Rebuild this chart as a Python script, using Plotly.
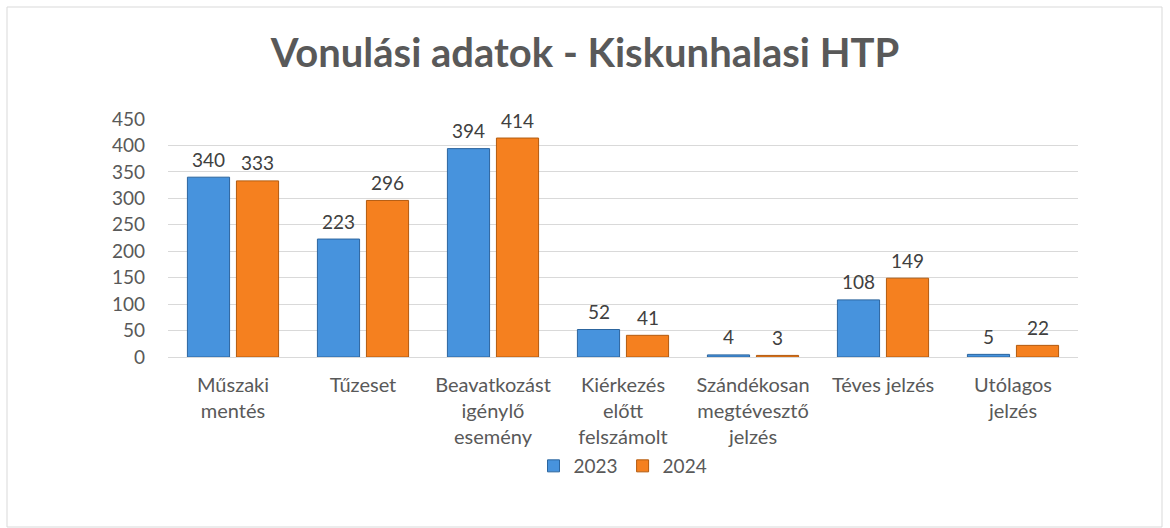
import plotly.graph_objects as go

categories = ["Műszaki<br>mentés", "Tűzeset", "Beavatkozást<br>igénylő<br>esemény",
              "Kiérkezés<br>előtt<br>felszámolt", "Szándékosan<br>megtévesztő<br>jelzés",
              "Téves jelzés", "Utólagos<br>jelzés"]
values_2023 = [340, 223, 394, 52, 4, 108, 5]
values_2024 = [333, 296, 414, 41, 3, 149, 22]
y_ticks = [0, 50, 100, 150, 200, 250, 300, 350, 400, 450]

FONT = "Lato, 'Open Sans', sans-serif"
fig = go.Figure()
fig.add_trace(go.Bar(name="2023", x=categories, y=values_2023,
                     marker=dict(color="#4793dd", line=dict(color="#2c659e", width=1))))
fig.add_trace(go.Bar(name="2024", x=categories, y=values_2024,
                     marker=dict(color="#f5801f", line=dict(color="#b35a0e", width=1))))

W, H = 1170, 528
L, R, T, B = 168, 92, 119, 171
pw, ph = W - L - R, H - T - B
def px(x): return (x - L) / pw
def py(y): return (H - B - y) / ph

annotations = []
for vals, shift in ((values_2023, -24.5), (values_2024, 24.5)):
    for c, v in zip(categories, vals):
        annotations.append(dict(x=c, y=v, xref="x", yref="y", text=str(v), showarrow=False,
                                xshift=shift, yshift=18, yanchor="middle",
                                font=dict(size=19, color="#404040", family=FONT)))

fig.update_layout(
    width=W, height=H,
    margin=dict(l=L, r=R, t=T, b=B),
    paper_bgcolor="white", plot_bgcolor="white",
    barmode="group", bargap=0.246, bargroupgap=0.14,
    font=dict(family=FONT, color="#595959", size=19),
    title=dict(text="<b>Vonulási adatok - Kiskunhalasi HTP</b>", x=0.5, xanchor="center",
               y=1 - 53 / H, yanchor="middle",
               font=dict(size=40, color="#595959", family=FONT)),
    xaxis=dict(showgrid=False, showline=True, linecolor="#d9d9d9", ticks="",
               ticklabelstandoff=10,
               tickfont=dict(size=20, color="#595959")),
    yaxis=dict(range=[0, 450], tickvals=y_ticks, showgrid=True, gridcolor="#d9d9d9",
               zeroline=False, showline=False, ticks="", ticklabelstandoff=22,
               tickfont=dict(size=19, color="#595959")),
    legend=dict(orientation="h", x=0.5, xanchor="center", y=py(466), yanchor="middle",
                font=dict(size=19, color="#595959"), traceorder="normal",
                itemwidth=30),
    showlegend=True,
    annotations=annotations,
    shapes=[dict(type="rect", xref="paper", yref="paper",
                 x0=px(7), x1=px(1162), y0=py(527), y1=py(7),
                 line=dict(color="#d9d9d9", width=1), layer="below")],
)
fig.write_html("out.html")
